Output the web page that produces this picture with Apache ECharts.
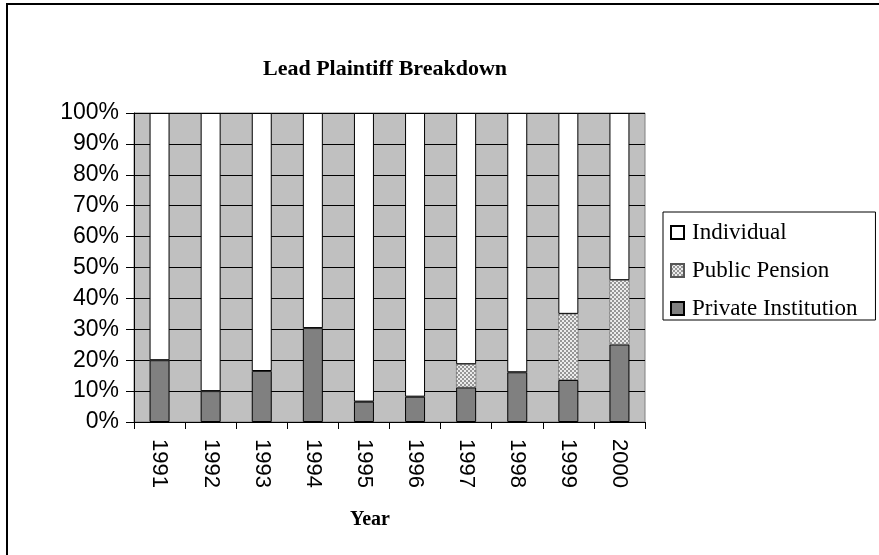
<!DOCTYPE html>
<html>
<head>
<meta charset="utf-8">
<script src="https://cdn.jsdelivr.net/npm/echarts@6/dist/echarts.min.js"></script>
<style>
  html, body { margin: 0; padding: 0; background: #fff; }
  #chart { width: 879px; height: 555px; }
</style>
</head>
<body>
<div id="chart"></div>
<script>
// data (percent of cases per year)
const years = ['1991', '1992', '1993', '1994', '1995', '1996', '1997', '1998', '1999', '2000'];
const privateInst = [20, 10, 16.5, 30.4, 6.6, 8.2, 11.2, 16.1, 13.6, 25.1];
const publicPension = [0, 0, 0, 0, 0, 0, 7.5, 0, 21.4, 20.8];
const individual = [80, 90, 83.5, 69.6, 93.4, 91.8, 81.3, 83.9, 65, 54.1];
const yTicks = [0, 10, 20, 30, 40, 50, 60, 70, 80, 90, 100];

// checkered fill for the pension series
const pat = document.createElement('canvas');
pat.width = 4; pat.height = 4;
const pc = pat.getContext('2d');
pc.fillStyle = '#ececec';
pc.fillRect(0, 0, 4, 4);
pc.fillStyle = '#969696';
pc.fillRect(0, 0, 2, 2);
pc.fillRect(2, 2, 2, 2);

const serif = '"Liberation Serif", "Times New Roman", serif';
const sans = '"Liberation Sans", Arial, sans-serif';

const chart = echarts.init(document.getElementById('chart'));
chart.setOption({
  animation: false,
  backgroundColor: '#fff',
  title: {
    text: 'Lead Plaintiff Breakdown',
    left: 380,
    textAlign: 'center',
    top: 53,
    textStyle: { fontFamily: serif, fontSize: 22, fontWeight: 'bold', color: '#000' }
  },
  legend: {
    orient: 'vertical',
    left: 663,
    top: 212,
    borderColor: '#000',
    borderWidth: 1,
    padding: [9, 18, 0, 7],
    itemGap: 15,
    itemWidth: 13,
    itemHeight: 13,
    icon: 'rect',
    data: ['Individual', 'Public Pension', 'Private Institution'],
    textStyle: { fontFamily: serif, fontSize: 23, color: '#000', padding: [0, 0, 0, 3] }
  },
  graphic: [{
    type: 'rect',
    shape: { x: 7, y: 4, width: 1000, height: 700 },
    style: { fill: null, stroke: '#000', lineWidth: 2 },
    silent: true
  }, {
    type: 'text',
    left: 350,
    top: 510,
    style: { text: 'Year', font: 'bold 20px ' + serif, fill: '#000' },
    silent: true
  }],
  grid: {
    left: 134, top: 113, width: 511, height: 309,
    show: true, backgroundColor: '#c0c0c0', borderColor: '#808080', borderWidth: 1
  },
  xAxis: {
    type: 'category',
    data: years,
    axisLine: { lineStyle: { color: '#000', width: 1 } },
    axisTick: { show: true, length: 7, lineStyle: { color: '#000' } },
    axisLabel: { rotate: -90, fontFamily: sans, fontSize: 22, color: '#000', margin: 17 },
    splitLine: { show: false }
  },
  yAxis: {
    type: 'value',
    min: 0, max: 100, interval: 10,
    axisLine: { show: true, lineStyle: { color: '#000' } },
    axisTick: { show: true, length: 8, lineStyle: { color: '#000' } },
    axisLabel: {
      fontFamily: sans, fontSize: 23, color: '#000', margin: 15,
      formatter: v => yTicks.includes(v) ? v + '%' : ''
    },
    splitLine: { show: true, lineStyle: { color: '#000', width: 1 } }
  },
  series: [
    {
      name: 'Private Institution', type: 'bar', stack: 'all', barWidth: 20,
      data: privateInst,
      itemStyle: { color: '#808080', borderColor: '#000', borderWidth: 1 }
    },
    {
      name: 'Public Pension', type: 'bar', stack: 'all', barWidth: 20,
      data: publicPension,
      itemStyle: { color: { image: pat, repeat: 'repeat' }, borderColor: '#555', borderWidth: 0.5 }
    },
    {
      name: 'Individual', type: 'bar', stack: 'all', barWidth: 20,
      data: individual,
      itemStyle: { color: '#fff', borderColor: '#000', borderWidth: 1 }
    }
  ]
});
</script>
</body>
</html>
